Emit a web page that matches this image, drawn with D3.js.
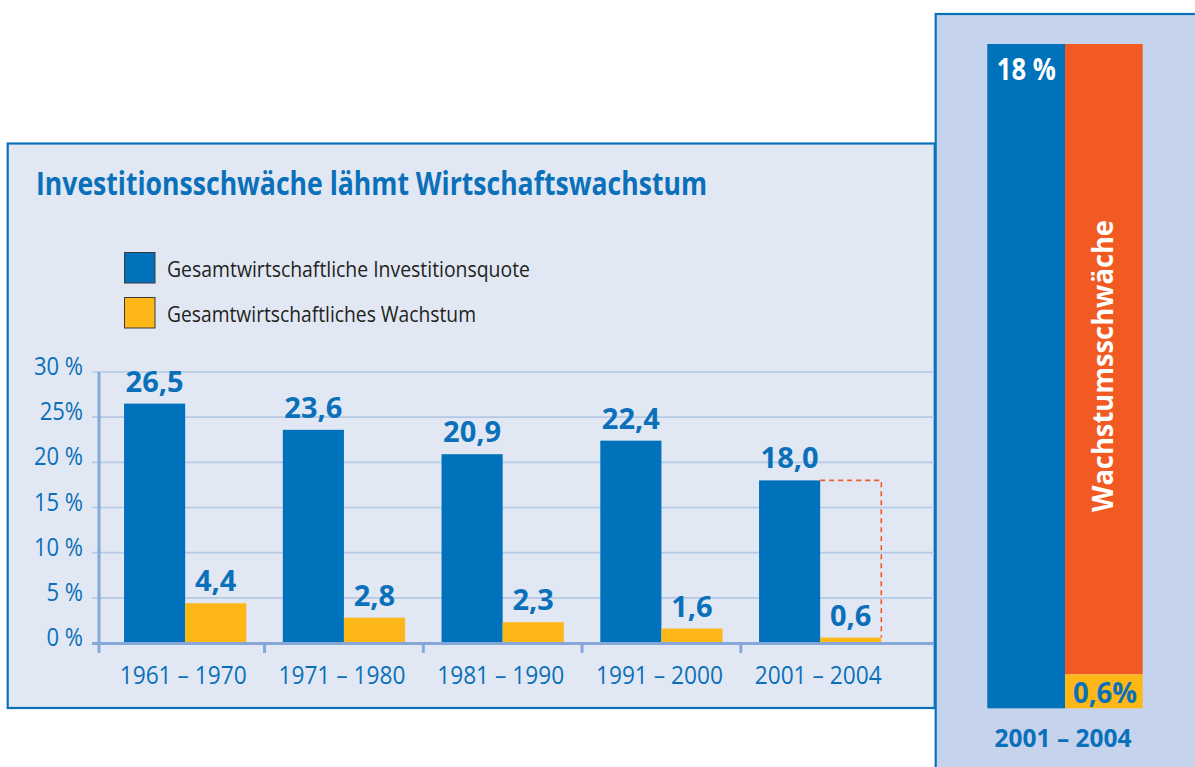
<!DOCTYPE html>
<html>
<head>
<meta charset="utf-8">
<script src="https://cdn.jsdelivr.net/npm/d3@7"></script>
<style>
  body { margin:0; background:#fff; }
  svg { display:block; font-family:"Open Sans", sans-serif; }
</style>
</head>
<body>
<svg id="chart" width="1195" height="767"></svg>
<script>
// data
const periods = ["1961 – 1970", "1971 – 1980", "1981 – 1990", "1991 – 2000", "2001 – 2004"]
const investQuote = [26.5, 23.6, 20.9, 22.4, 18.0]
const growth = [4.4, 2.8, 2.3, 1.6, 0.6]
const yTicks = [0, 5, 10, 15, 20, 25, 30]
const yTickLabels = ["0 %", "5 %", "10 %", "15 %", "20 %", "25%", "30 %"]
const seriesKeys = ["invest", "growth"]
const legendLabels = ["Gesamtwirtschaftliche Investitionsquote", "Gesamtwirtschaftliches Wachstum"]
const titleText = "Investitionsschwäche lähmt Wirtschaftswachstum"
const recentPeriod = "2001 – 2004"
const recentInvest = 18
const recentGrowth = 0.6
const gapLabel = "Wachstumsschwäche"

const BLUE = "#0071bb", TEXTBLUE = "#0a70b9", YELLOW = "#fdb817", ORANGE = "#f15a22"
const comma = v => d3.format(".1f")(v).replace(".", ",")

const svg = d3.select("#chart")

// squeeze text to a measured width (the original font is narrower)
function fitW(sel, w){
  sel.attr("textLength", w).attr("lengthAdjust", "spacingAndGlyphs")
}
function squeeze(sel, k){
  sel.each(function(){
    const n = this.getComputedTextLength()
    d3.select(this).attr("textLength", n*k).attr("lengthAdjust", "spacingAndGlyphs")
  })
}

/*
panels
*/
svg.append("rect").attr("x", 7.7).attr("y", 143.5).attr("width", 927).attr("height", 564.5)
  .attr("fill", "#e1e8f4").attr("stroke", "#0a72bb").attr("stroke-width", 2.2)
svg.append("rect").attr("x", 935.7).attr("y", 14).attr("width", 280).attr("height", 780)
  .attr("fill", "#c5d3ec").attr("stroke", "#0a72bb").attr("stroke-width", 2.2)

// title
svg.append("text").attr("x", 36).attr("y", 195).attr("fill", TEXTBLUE)
  .attr("font-size", 33).attr("font-weight", 700).text(titleText).call(fitW, 671)

// legend
const leg = svg.append("g").selectAll("g").data(seriesKeys).enter().append("g")
  .attr("transform", (d, i) => `translate(124,${252 + i*45})`)
leg.append("rect").attr("x", 0.5).attr("y", 0.5).attr("width", 30.5).attr("height", 30.5)
  .attr("fill", (d, i) => i == 0 ? BLUE : YELLOW).attr("stroke", "#3b3b3b").attr("stroke-width", 1)
leg.append("text").attr("x", 43).attr("y", 24.5).attr("font-size", 21.5).attr("fill", "#231f20")
  .text((d, i) => legendLabels[i])
  .each(function(d, i){ d3.select(this).call(fitW, i == 0 ? 363 : 309) })

/*
main bar chart
*/
const y = d3.scaleLinear().domain([0, 30]).range([643, 372])
const x0 = d3.scaleBand().domain(periods).range([105.8, 899.55]).paddingInner(0.23).paddingOuter(0.115)
const x1 = d3.scaleBand().domain(seriesKeys).range([0, x0.bandwidth()])
const gapHalf = x0.step()*0.23/2

// grid
svg.append("g").selectAll("line").data(yTicks.slice(1)).enter().append("line")
  .attr("x1", 92).attr("x2", 934).attr("y1", d => y(d)).attr("y2", d => y(d))
  .attr("stroke", "#b5c8e6").attr("stroke-width", 1.6)

// y labels
svg.append("g").selectAll("text").data(yTicks).enter().append("text")
  .attr("x", 83).attr("y", d => y(d) + 3).attr("text-anchor", "end")
  .attr("font-size", 25).attr("fill", TEXTBLUE)
  .text((d, i) => yTickLabels[i])
  .call(squeeze, 0.88)

const rows = periods.map((p, i) => ({period: p, invest: investQuote[i], growth: growth[i]}))

const groups = svg.append("g").selectAll("g").data(rows).enter().append("g")
  .attr("transform", d => `translate(${x0(d.period)},0)`)

groups.selectAll("rect").data(d => seriesKeys.map(k => ({key: k, value: d[k]}))).enter().append("rect")
  .attr("x", d => x1(d.key)).attr("width", x1.bandwidth())
  .attr("y", d => y(d.value)).attr("height", d => y(0) - y(d.value))
  .attr("fill", d => d.key == "invest" ? BLUE : YELLOW)

groups.selectAll("text.val").data(d => seriesKeys.map(k => ({key: k, value: d[k]}))).enter().append("text")
  .attr("class", "val")
  .attr("x", d => x1(d.key) + x1.bandwidth()/2).attr("y", d => y(d.value) - 12)
  .attr("text-anchor", "middle").attr("font-size", 29).attr("font-weight", 700).attr("fill", TEXTBLUE)
  .text(d => comma(d.value))

// dashed bracket on the last period
const last = rows[rows.length - 1]
const lx = x0(last.period) + x1("growth") + x1.bandwidth()
svg.append("path")
  .attr("d", `M${x0(last.period) + x1.bandwidth()},${y(last.invest)}H${lx}V${y(last.growth)}`)
  .attr("fill", "none").attr("stroke", ORANGE).attr("stroke-width", 1.6).attr("stroke-dasharray", "5,4")

// axes
const AXIS = "#86a8d8"
svg.append("line").attr("x1", 99).attr("x2", 99).attr("y1", y(30)).attr("y2", 653)
  .attr("stroke", AXIS).attr("stroke-width", 3)
svg.append("line").attr("x1", 92).attr("x2", 934).attr("y1", y(0) + 0.5).attr("y2", y(0) + 0.5)
  .attr("stroke", AXIS).attr("stroke-width", 3)
svg.append("g").selectAll("line").data(periods.slice(1)).enter().append("line")
  .attr("x1", d => x0(d) - gapHalf).attr("x2", d => x0(d) - gapHalf)
  .attr("y1", y(0)).attr("y2", 653).attr("stroke", AXIS).attr("stroke-width", 3)

// x labels
svg.append("g").selectAll("text").data(periods).enter().append("text")
  .attr("x", d => x0(d) + x0.bandwidth()/2 - 2).attr("y", 684).attr("text-anchor", "middle")
  .attr("font-size", 25.5).attr("fill", TEXTBLUE).text(d => d)
  .call(fitW, 127)

/*
right panel: stacked comparison
*/
const rx = d3.scaleBand().domain(seriesKeys).range([987.3, 1142.7])
const ry = d3.scaleLinear().domain([0, recentInvest]).range([708.3, 44])
const growthTop = Math.min(ry(recentGrowth), ry(0) - 34) // keep room for the label

svg.append("rect").attr("x", rx("invest")).attr("width", rx.bandwidth())
  .attr("y", ry(recentInvest)).attr("height", ry(0) - ry(recentInvest)).attr("fill", BLUE)
svg.append("rect").attr("x", rx("growth")).attr("width", rx.bandwidth())
  .attr("y", ry(recentInvest)).attr("height", growthTop - ry(recentInvest)).attr("fill", ORANGE)
svg.append("rect").attr("x", rx("growth")).attr("width", rx.bandwidth())
  .attr("y", growthTop).attr("height", ry(0) - growthTop).attr("fill", YELLOW)

svg.append("text").attr("x", rx("invest") + 9.5).attr("y", 80).attr("fill", "#fff")
  .attr("font-size", 31).attr("font-weight", 700).text(d3.format("d")(recentInvest) + " %").call(fitW, 59)
svg.append("text").attr("x", rx("growth") + 8).attr("y", 703).attr("fill", TEXTBLUE)
  .attr("font-size", 29).attr("font-weight", 700).text(comma(recentGrowth) + "%").call(fitW, 64)
svg.append("text").attr("x", 1063).attr("y", 747).attr("text-anchor", "middle").attr("fill", TEXTBLUE)
  .attr("font-size", 25).attr("font-weight", 700).text(recentPeriod).call(fitW, 137)
svg.append("text")
  .attr("transform", `translate(${rx("growth") + rx.bandwidth()/2 + 9},366) rotate(-90)`)
  .attr("text-anchor", "middle").attr("fill", "#fff")
  .attr("font-size", 29).attr("font-weight", 700).text(gapLabel).call(fitW, 292)
</script>
</body>
</html>
